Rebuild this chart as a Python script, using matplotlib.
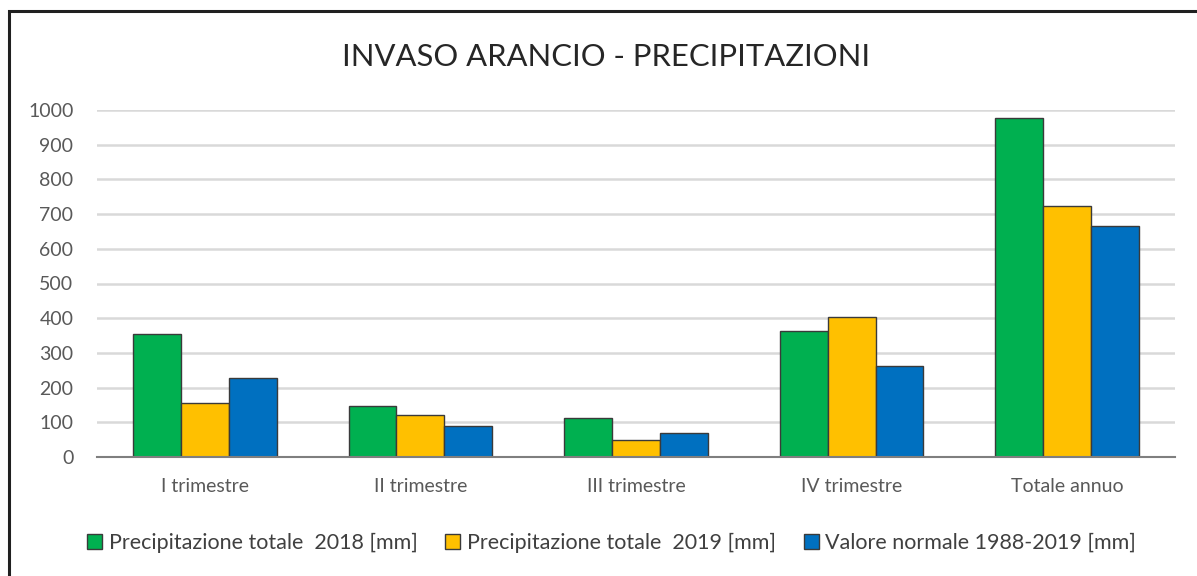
import matplotlib.pyplot as plt
import numpy as np
from matplotlib.patches import Rectangle

plt.rcParams['font.family'] = ['Lato', 'DejaVu Sans']

# data
categories = ['I trimestre', 'II trimestre', 'III trimestre', 'IV trimestre', 'Totale annuo']
prec_2018 = [354, 147, 112, 363, 977]
prec_2019 = [155, 121, 49, 403, 723]
normale = [228, 89, 69, 262, 666]
series_names = ['Precipitazione totale  2018 [mm]',
                'Precipitazione totale  2019 [mm]',
                'Valore normale 1988-2019 [mm]']
colors = ['#00B050', '#FFC000', '#0070C0']

fig = plt.figure(figsize=(11.97, 5.76), dpi=100)
ax = fig.add_axes([97 / 1197, 119 / 576, (1175 - 97) / 1197, 347 / 576])

# outer frame of the chart
fig.patches.append(Rectangle((9 / 1197, -0.05), 1.1, 1 - 11 / 576 + 0.05,
                             transform=fig.transFigure, fill=False,
                             edgecolor='#202020', linewidth=2.2))

x = np.arange(len(categories))
w = 0.222
for i, (vals, name, col) in enumerate(zip([prec_2018, prec_2019, normale], series_names, colors)):
    ax.bar(x + (i - 1) * w, vals, w, color=col, edgecolor='#3a3a3a',
           linewidth=1.0, label=name, zorder=3)

ax.set_xlim(-0.5, 4.5)
ax.set_ylim(0, 1000)
ax.set_yticks(range(0, 1001, 100))
ax.yaxis.grid(True, color='#d9d9d9', linewidth=1.8, zorder=0)
ax.set_axisbelow(True)
for s in ['top', 'right', 'left']:
    ax.spines[s].set_visible(False)
ax.spines['bottom'].set_color('#7f7f7f')
ax.spines['bottom'].set_linewidth(1.5)
ax.spines['bottom'].set_zorder(4)
ax.tick_params(axis='both', length=0, labelsize=14, colors='#595959')
ax.tick_params(axis='y', pad=17)
ax.tick_params(axis='x', pad=15)
ax.set_xticks(x)
ax.set_xticklabels(categories)

fig.text(0.506, 1 - 57 / 576, 'INVASO ARANCIO - PRECIPITAZIONI', ha='center', va='center',
         fontsize=22.3, color='#262626')

fig.legend(loc='center', bbox_to_anchor=(0.511, 1 - 543 / 576), ncol=3, frameon=False,
           fontsize=15.5, handlelength=0.7, handleheight=0.7, handletextpad=0.3,
           columnspacing=1.3, labelcolor='#404040')

fig.savefig('out.png', dpi=100)
